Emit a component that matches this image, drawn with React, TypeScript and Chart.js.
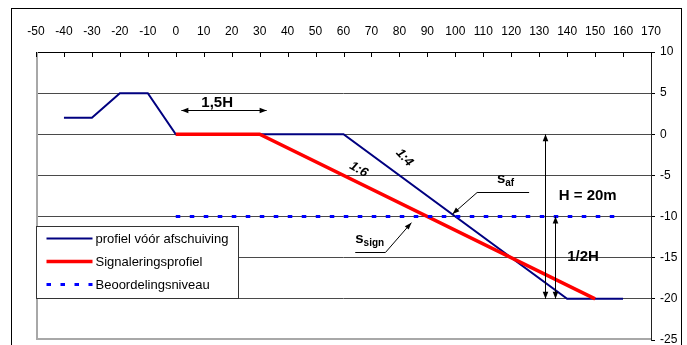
import React, { useEffect, useRef } from "react";
import { Chart, registerables } from "chart.js";

Chart.register(...registerables);

const FONT = "'Liberation Sans', Arial, Helvetica, sans-serif";

// Axis ranges
const xMin = -50;
const xMax = 170;
const xStep = 10;
const yMin = -25;
const yMax = 10;
const yStep = 5;

// Series
const seriesLabels = ["profiel vóór afschuiving", "Signaleringsprofiel", "Beoordelingsniveau"];
const profielX = [-40, -30, -20, -10, 0, 60, 140, 160];
const profielY = [2, 2, 5, 5, 0, 0, -20, -20];
const signX = [0, 30, 150];
const signY = [0, 0, -20];
const niveauX = [0, 160];
const niveauY = [-10, -10];

// Annotations (data units)
const spanArrowX = [2, 32.5];
const spanArrowY = 2.9;
const spanLabel = { text: "1,5H", x: 14.8, y: 3.35 };
const hArrowX = 132.2;
const hArrowY = [0, -20];
const halfArrowX = 135.5;
const halfArrowY = [-10, -20];
const hLabel = { text: "H = 20m", x: 137, y: -8.0 };
const halfLabel = { text: "1/2H", x: 140, y: -15.4 };
const slope4 = { text: "1:4", x: 81.8, y: -2.85, angle: 47 };
const slope6 = { text: "1:6", x: 65.4, y: -4.28, angle: 30 };
const safLeaderX = [126.4, 107.8, 99];
const safLeaderY = [-6.97, -6.97, -9.7];
const safLabel = { main: "s", sub: "af", x: 114.9, y: -5.9 };
const ssignLeaderX = [64.2, 75, 84.3];
const ssignLeaderY = [-14.27, -14.27, -10.74];
const ssignLabel = { main: "s", sub: "sign", x: 64.2, y: -13.2 };

const toPoints = (xs: number[], ys: number[]) => xs.map((x, i) => ({ x, y: ys[i] }));

function arrowHead(ctx: CanvasRenderingContext2D, fx: number, fy: number, tx: number, ty: number, len = 7, half = 2.8) {
  const a = Math.atan2(ty - fy, tx - fx);
  ctx.beginPath();
  ctx.moveTo(tx, ty);
  ctx.lineTo(tx - len * Math.cos(a) + half * Math.sin(a), ty - len * Math.sin(a) - half * Math.cos(a));
  ctx.lineTo(tx - len * Math.cos(a) - half * Math.sin(a), ty - len * Math.sin(a) + half * Math.cos(a));
  ctx.closePath();
  ctx.fill();
}

const decorPlugin = {
  id: "decor",
  beforeDraw(chart: any) {
    const ctx = chart.ctx as CanvasRenderingContext2D;
    ctx.save();
    ctx.fillStyle = "#ffffff";
    ctx.fillRect(0, 0, chart.width, chart.height);
    ctx.strokeStyle = "#000";
    ctx.lineWidth = 1;
    ctx.strokeRect(11.5, 8.5, 670, chart.height + 20);
    ctx.restore();
  },
  beforeDatasetsDraw(chart: any) {
    const ctx = chart.ctx as CanvasRenderingContext2D;
    const { left, right, top, bottom } = chart.chartArea;
    ctx.save();
    ctx.strokeStyle = "#a8a8a8";
    ctx.lineWidth = 2;
    ctx.beginPath();
    ctx.moveTo(left + 1, top);
    ctx.lineTo(left + 1, bottom);
    ctx.moveTo(left, bottom - 1);
    ctx.lineTo(right, bottom - 1);
    ctx.stroke();
    // inward x tick marks
    const xs = chart.scales.x;
    ctx.strokeStyle = "#000";
    ctx.lineWidth = 1;
    ctx.beginPath();
    xs.ticks.forEach((t: any) => {
      const p = Math.round(xs.getPixelForValue(t.value)) + 0.5;
      ctx.moveTo(p, top);
      ctx.lineTo(p, top + 5);
    });
    ctx.stroke();
    ctx.restore();
  },
  afterDatasetsDraw(chart: any) {
    const ctx = chart.ctx as CanvasRenderingContext2D;
    const { left } = chart.chartArea;
    const lx = Math.round(left) + 0.5;
    const ly = 226.5;
    const lw = 202;
    const lh = 72;
    ctx.save();
    ctx.fillStyle = "#fff";
    ctx.fillRect(lx, ly, lw, lh);
    ctx.strokeStyle = "#333";
    ctx.lineWidth = 1;
    ctx.strokeRect(lx, ly, lw, lh);
    const ds = chart.data.datasets;
    ds.forEach((d: any, i: number) => {
      const cy = ly + 12 + i * 23;
      ctx.save();
      ctx.strokeStyle = d.borderColor;
      ctx.lineWidth = d.borderWidth;
      ctx.setLineDash(d.borderDash || []);
      ctx.lineCap = "butt";
      ctx.beginPath();
      ctx.moveTo(lx + 10, cy);
      ctx.lineTo(lx + 56, cy);
      ctx.stroke();
      ctx.restore();
      ctx.fillStyle = "#000";
      ctx.font = `13px ${FONT}`;
      ctx.textBaseline = "middle";
      ctx.textAlign = "left";
      ctx.fillText(d.label, lx + 59, cy + 0.5);
    });
    ctx.restore();
  },
  afterDraw(chart: any) {
    const ctx = chart.ctx as CanvasRenderingContext2D;
    const xs = chart.scales.x;
    const ys = chart.scales.y;
    const px = (v: number) => xs.getPixelForValue(v);
    const py = (v: number) => ys.getPixelForValue(v);
    ctx.save();
    ctx.strokeStyle = "#000";
    ctx.fillStyle = "#000";
    ctx.lineWidth = 1;

    // 1,5H span arrow
    const sy = Math.round(py(spanArrowY)) + 0.5;
    const sx1 = px(spanArrowX[0]);
    const sx2 = px(spanArrowX[1]);
    ctx.beginPath();
    ctx.moveTo(sx1, sy);
    ctx.lineTo(sx2, sy);
    ctx.stroke();
    arrowHead(ctx, sx2, sy, sx1, sy);
    arrowHead(ctx, sx1, sy, sx2, sy);

    // vertical arrows
    const vArrow = (xv: number, y1: number, y2: number) => {
      const x = Math.round(px(xv)) + 0.5;
      const a = py(y1);
      const b = py(y2);
      ctx.beginPath();
      ctx.moveTo(x, a);
      ctx.lineTo(x, b);
      ctx.stroke();
      arrowHead(ctx, x, b, x, a);
      arrowHead(ctx, x, a, x, b);
    };
    vArrow(hArrowX, hArrowY[0], hArrowY[1]);
    vArrow(halfArrowX, halfArrowY[0], halfArrowY[1]);

    // Bold labels
    ctx.font = `bold 15px ${FONT}`;
    ctx.textBaseline = "alphabetic";
    ctx.textAlign = "center";
    ctx.fillText(spanLabel.text, px(spanLabel.x), py(spanLabel.y));
    ctx.textAlign = "left";
    ctx.fillText(hLabel.text, px(hLabel.x), py(hLabel.y));
    ctx.fillText(halfLabel.text, px(halfLabel.x), py(halfLabel.y));

    // slope labels
    [slope4, slope6].forEach((s) => {
      ctx.save();
      ctx.translate(px(s.x), py(s.y));
      ctx.rotate((s.angle * Math.PI) / 180);
      ctx.font = `italic bold 13px ${FONT}`;
      ctx.textAlign = "center";
      ctx.textBaseline = "middle";
      ctx.fillText(s.text, 0, 0);
      ctx.restore();
    });

    // leaders
    const leader = (lxs: number[], lys: number[]) => {
      ctx.beginPath();
      ctx.moveTo(px(lxs[0]), Math.round(py(lys[0])) + 0.5);
      ctx.lineTo(px(lxs[1]), Math.round(py(lys[1])) + 0.5);
      ctx.lineTo(px(lxs[2]), py(lys[2]));
      ctx.stroke();
      arrowHead(ctx, px(lxs[1]), py(lys[1]), px(lxs[2]), py(lys[2]), 7, 2.6);
    };
    leader(safLeaderX, safLeaderY);
    leader(ssignLeaderX, ssignLeaderY);

    const subLabel = (l: { main: string; sub: string; x: number; y: number }) => {
      const x = px(l.x);
      const y = py(l.y);
      ctx.textAlign = "left";
      ctx.font = `bold 15px ${FONT}`;
      ctx.fillText(l.main, x, y);
      const w = ctx.measureText(l.main).width;
      ctx.font = `bold 10px ${FONT}`;
      ctx.fillText(l.sub, x + w, y + 3.3);
    };
    subLabel(safLabel);
    subLabel(ssignLabel);

    ctx.restore();
  },
};

export default function App() {
  const canvasRef = useRef<HTMLCanvasElement | null>(null);

  useEffect(() => {
    const canvas = canvasRef.current;
    if (!canvas) return;
    const chart = new Chart(canvas, {
      type: "line",
      data: {
        datasets: [
          {
            label: seriesLabels[0],
            data: toPoints(profielX, profielY),
            borderColor: "#000080",
            backgroundColor: "#000080",
            borderWidth: 2,
            pointRadius: 0,
            order: 2,
          },
          {
            label: seriesLabels[1],
            data: toPoints(signX, signY),
            borderColor: "#ff0000",
            backgroundColor: "#ff0000",
            borderWidth: 3.5,
            pointRadius: 0,
            order: 1,
          },
          {
            label: seriesLabels[2],
            data: toPoints(niveauX, niveauY),
            borderColor: "#0000ff",
            backgroundColor: "#0000ff",
            borderWidth: 3,
            borderDash: [4.5, 9.5],
            borderCapStyle: "butt",
            pointRadius: 0,
            order: 0,
          },
        ],
      },
      options: {
        animation: false,
        responsive: false,
        events: [],
        layout: { padding: { left: 36, top: 0, right: 0, bottom: 5 } },
        plugins: {
          legend: { display: false },
          tooltip: { enabled: false },
        },
        scales: {
          x: {
            type: "linear",
            position: "top",
            min: xMin,
            max: xMax,
            afterFit: (s: any) => {
              s.height = 52;
              s.paddingLeft = 0;
              s.paddingRight = 0;
            },
            ticks: {
              stepSize: xStep,
              autoSkip: false,
              maxRotation: 0,
              color: "#000",
              padding: 13,
              font: { family: FONT, size: 12 },
            },
            grid: { display: false, drawTicks: false },
            border: { display: true, color: "#000", width: 1 },
          },
          y: {
            type: "linear",
            position: "right",
            min: yMin,
            max: yMax,
            afterFit: (s: any) => {
              s.width = 36;
              s.paddingTop = 0;
              s.paddingBottom = 0;
            },
            ticks: {
              stepSize: yStep,
              color: "#000",
              padding: 5,
              font: { family: FONT, size: 12 },
            },
            grid: {
              color: (c: any) =>
                c.tick && (c.tick.value === yMin || c.tick.value === yMax) ? "rgba(0,0,0,0)" : "#4a4a4a",
              tickColor: "#000",
              tickLength: 4,
              lineWidth: 1,
            },
            border: { display: true, color: "#222", width: 1 },
          },
        },
      },
      plugins: [decorPlugin],
    } as any);
    return () => chart.destroy();
  }, []);

  return (
    <div style={{ position: "absolute", left: 0, top: 0, width: 687, height: 345 }}>
      <canvas ref={canvasRef} width={687} height={345} style={{ display: "block" }} />
    </div>
  );
}
